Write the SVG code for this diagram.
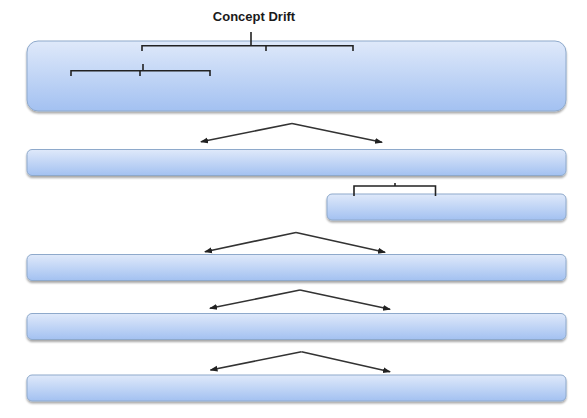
<svg xmlns="http://www.w3.org/2000/svg" width="587" height="418" viewBox="0 0 587 418">
<defs>
<linearGradient id="g" x1="0" y1="0" x2="0" y2="1">
<stop offset="0" stop-color="#dfe9fa"/>
<stop offset="1" stop-color="#a3c1f1"/>
</linearGradient>
<filter id="sh" x="-5%" y="-20%" width="110%" height="150%">
<feGaussianBlur in="SourceAlpha" stdDeviation="1.2"/>
<feOffset dx="0" dy="1.5" result="b"/>
<feComponentTransfer><feFuncA type="linear" slope="0.35"/></feComponentTransfer>
<feMerge><feMergeNode/><feMergeNode in="SourceGraphic"/></feMerge>
</filter>
<marker id="ah" markerWidth="8" markerHeight="8" refX="7" refY="4" orient="auto" markerUnits="userSpaceOnUse">
<path d="M0,1 L8,4 L0,7 Z" fill="#222"/>
</marker>
</defs>
<style>
.box{fill:url(#g);stroke:#8ea9cb;stroke-width:1;filter:url(#sh)}
.br{fill:none;stroke:#222;stroke-width:1.6}
.ar{fill:none;stroke:#333;stroke-width:1.6;marker-end:url(#ah)}
.t{font-family:"Liberation Sans",Arial,sans-serif;font-weight:bold;font-size:13px;fill:#1a1a1a}
</style>
<rect width="587" height="418" fill="#fff"/>
<text class="t" x="254" y="21" text-anchor="middle">Concept Drift</text>
<g id="n1"><rect class="box" x="27" y="41" width="539" height="70" rx="11"/></g>
<g id="n2"><rect class="box" x="27" y="149.5" width="539" height="26" rx="5"/></g>
<g id="n3"><rect class="box" x="327" y="194" width="239" height="26" rx="5"/></g>
<g id="n4"><rect class="box" x="27" y="254.5" width="539" height="26" rx="5"/></g>
<g id="n5"><rect class="box" x="27" y="313.5" width="539" height="26" rx="5"/></g>
<g id="n6"><rect class="box" x="27" y="375" width="539" height="26" rx="5"/></g>
<g id="connectors">
<path class="br" d="M251,32 V45.7 M142,51 V45.7 H353 V51 M266,45.7 V51"/>
<path class="br" d="M143,64 V70.7 M71,76 V70.7 H210 V76 M140,70.7 V76"/>
<path class="br" d="M395,183 V186 M354,196 V186 H435.5 V196"/>
<path class="ar" d="M292,123.5 L201,141.7"/>
<path class="ar" d="M292,123.5 L382,142.3"/>
<path class="ar" d="M296,232.5 L205,251.7"/>
<path class="ar" d="M296,232.5 L385,252.3"/>
<path class="ar" d="M300,290 L210,308.3"/>
<path class="ar" d="M300,290 L390,309.3"/>
<path class="ar" d="M301.5,351.7 L210.5,370"/>
<path class="ar" d="M301.5,351.7 L390,371.7"/>
</g>
</svg>
